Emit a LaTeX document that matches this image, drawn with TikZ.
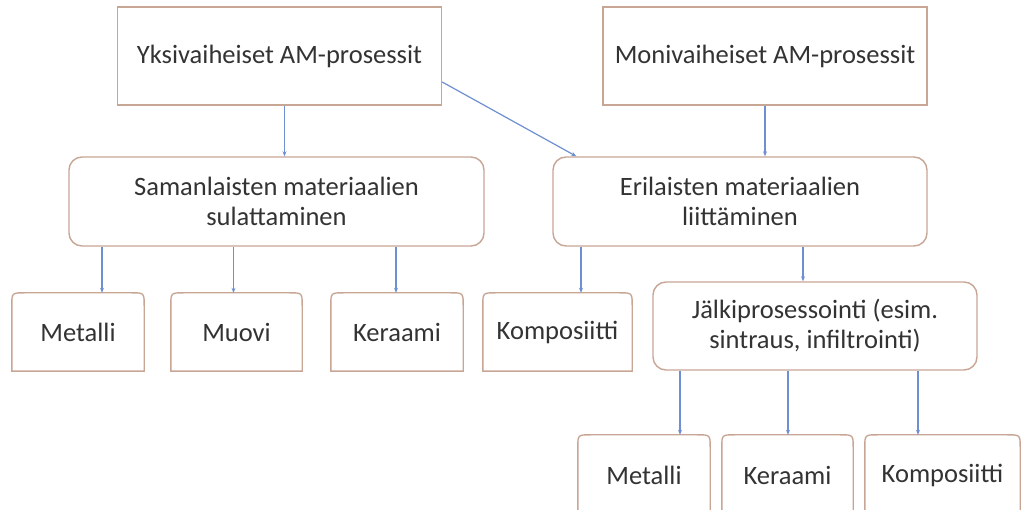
\documentclass[tikz,border=0pt]{standalone}
\usepackage{fontspec}
\setmainfont{Carlito}
\usetikzlibrary{arrows.meta}
\definecolor{boxc}{HTML}{C8A696}
\definecolor{arrc}{HTML}{6E8FD2}
\definecolor{txtc}{HTML}{333333}
\begin{document}
\begin{tikzpicture}[x=1pt,y=-1pt,
  every node/.style={font=\fontsize{26.5pt}{30pt}\selectfont, text=txtc, align=center, inner sep=0pt},
  sqbox/.style={draw=boxc, line width=1.4pt, fill=white},
  rbox/.style={draw=boxc, line width=1.4pt, fill=white, rounded corners=13pt},
  leaf/.style={draw=none},
  arr/.style={draw=arrc, line width=1.2pt, -{Stealth[length=5pt,width=4pt]}}]
\clip (0,0) rectangle (1021,510);
\useasboundingbox (0,0) rectangle (1021,510);
\fill[white] (0,0) rectangle (1021,510);

\node[sqbox, minimum width=324pt, minimum height=98pt] (y1) at (279.5,56) {Yksivaiheiset AM-prosessit};
\node[sqbox, minimum width=324pt, minimum height=98pt] (m1) at (765,56) {Monivaiheiset AM-prosessit};
\node[rbox, minimum width=415pt, minimum height=89pt] (s) at (276.5,201.5) {Samanlaisten materiaalien\\sulattaminen};
\node[rbox, minimum width=374pt, minimum height=89pt] (e) at (740,201.5) {Erilaisten materiaalien\\liittäminen};
\node[rbox, minimum width=324pt, minimum height=88pt] (j) at (815,326) {Jälkiprosessointi (esim.\\sintraus, infiltrointi)};

\node[leaf, minimum width=132pt, minimum height=78pt] (b1) at (78,332) {Metalli};
\node[leaf, minimum width=131pt, minimum height=78pt] (b2) at (236.5,332) {Muovi};
\node[leaf, minimum width=132pt, minimum height=78pt] (b3) at (397,332) {Keraami};
\node[leaf, minimum width=149pt, minimum height=78pt] (b4) at (557.5,332) {Komposiitti};
\node[leaf, minimum width=132pt, minimum height=80pt] (c1) at (644,475) {Metalli};
\node[leaf, minimum width=131pt, minimum height=80pt] (c2) at (787.5,475) {Keraami};
\node[leaf, minimum width=155pt, minimum height=80pt] (c3) at (942.5,475) {Komposiitti};

\foreach \n in {b1,b2,b3,b4,c1,c2,c3}{
  \draw[boxc, line width=1.4pt]
    (\n.south west) -- ([yshift=-13pt]\n.north west)
    .. controls (\n.north west) .. ([xshift=13pt]\n.north west)
    -- ([xshift=-13pt]\n.north east)
    .. controls (\n.north east) .. ([yshift=-13pt]\n.north east)
    -- (\n.south east) -- cycle;
}

\coordinate (ay) at ([xshift=5pt]y1.south);
\draw[arr] (ay) -- (ay |- s.north);
\draw[arr] (m1.south) -- (m1.south |- e.north);
\coordinate (ds) at ([yshift=-26pt]y1.east);
\coordinate (de) at ([xshift=24pt]e.north west);
\draw[arr] (ds) -- (de);

\coordinate (a1) at ([xshift=24pt]b1.north);
\coordinate (a2) at ([xshift=-3pt]b2.north);
\coordinate (a3) at ([xshift=-1pt]b3.north);
\coordinate (a4) at ([xshift=23.5pt]b4.north);
\coordinate (aj) at ([xshift=-12pt]j.north);
\draw[arr] (s.south -| a1) -- (a1);
\draw[arr] (s.south -| a2) -- (a2);
\draw[arr] (s.south -| a3) -- (a3);
\draw[arr] (e.south -| a4) -- (a4);
\draw[arr] (e.south -| aj) -- (aj);

\coordinate (k1) at ([xshift=36pt]c1.north);
\coordinate (k2) at ([xshift=0.5pt]c2.north);
\coordinate (k3) at ([xshift=-24.5pt]c3.north);
\draw[arr] (j.south -| k1) -- (k1);
\draw[arr] (j.south -| k2) -- (k2);
\draw[arr] (j.south -| k3) -- (k3);
\end{tikzpicture}
\end{document}
